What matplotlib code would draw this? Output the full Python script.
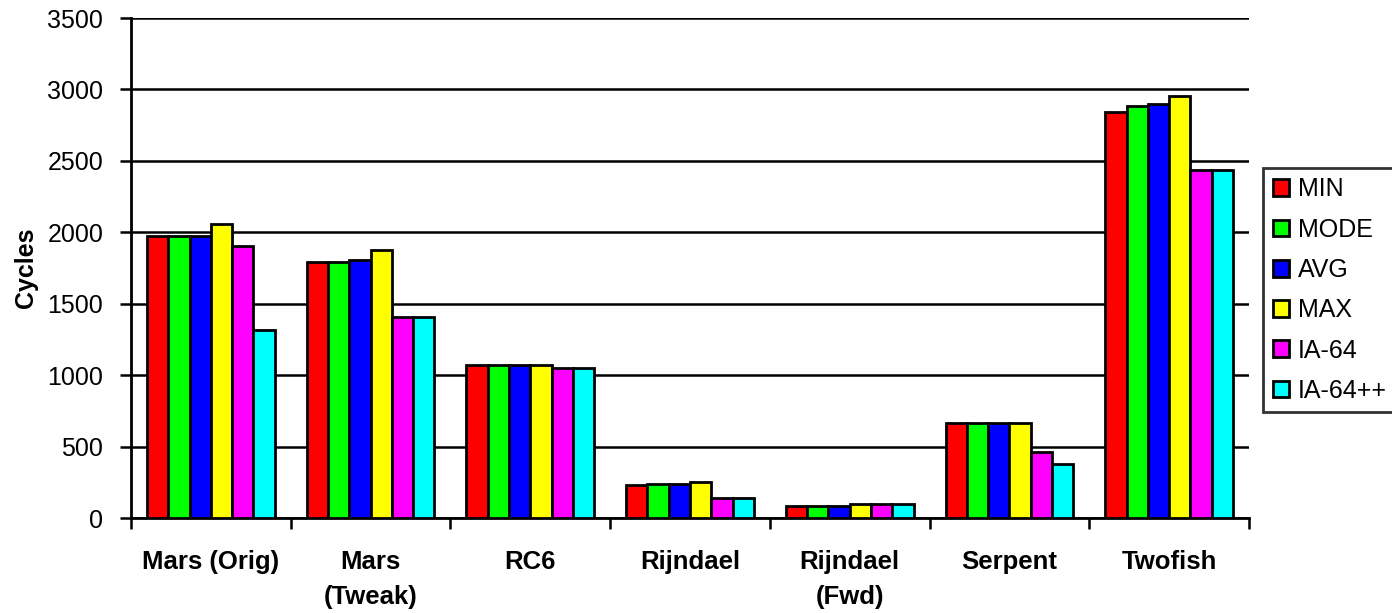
import matplotlib
matplotlib.use("Agg")
import matplotlib.pyplot as plt
import numpy as np

plt.rcParams['font.family'] = ['Liberation Sans', 'DejaVu Sans']

categories = ["Mars (Orig)", "Mars\n(Tweak)", "RC6", "Rijndael", "Rijndael\n(Fwd)", "Serpent", "Twofish"]
series_names = ["MIN", "MODE", "AVG", "MAX", "IA-64", "IA-64++"]
MIN = [1975, 1790, 1072, 233, 87, 667, 2840]
MODE = [1975, 1790, 1072, 238, 87, 667, 2884]
AVG = [1975, 1804, 1072, 238, 87, 667, 2898]
MAX = [2060, 1874, 1072, 252, 98, 667, 2954]
IA64 = [1902, 1409, 1048, 140, 98, 462, 2434]
IA64PP = [1314, 1409, 1048, 140, 98, 378, 2434]
values = [MIN, MODE, AVG, MAX, IA64, IA64PP]
colors = ["#FF0000", "#00FF00", "#0000FF", "#FFFF00", "#FF00FF", "#00FFFF"]
yticks = [0, 500, 1000, 1500, 2000, 2500, 3000, 3500]

fig = plt.figure(figsize=(13.92, 6.13), dpi=100)
ax = fig.add_axes([131/1392, 1-518/613, (1249-131)/1392, 500/613])

n = len(categories)
x = np.arange(n)
bw = 0.8 / 6
for i, (vals, c, name) in enumerate(zip(values, colors, series_names)):
    ax.bar(x - 0.4 + bw*(i+0.5), vals, width=bw, color=c, edgecolor='black',
           linewidth=2, label=name, zorder=3)

ax.set_xlim(-0.5, n-0.5)
ax.set_ylim(0, 3500)
ax.set_yticks(yticks)
ax.set_yticklabels([str(v) for v in yticks], fontsize=18)
ax.yaxis.grid(True, color='black', linewidth=1.8, zorder=0)
ax.set_axisbelow(True)

ax.set_xticks(x)
ax.set_xticklabels(categories, fontsize=18.5, fontweight='bold', linespacing=1.6)
ax.tick_params(axis='x', length=0, pad=23)
ax.set_xticks(np.arange(-0.5, n, 1.0), minor=True)
ax.tick_params(axis='x', which='minor', length=8, width=1.8, direction='out')
ax.tick_params(axis='y', length=8, width=1.8, direction='out', pad=12)

for s in ['top', 'right']:
    ax.spines[s].set_visible(False)
for s in ['left', 'bottom']:
    ax.spines[s].set_linewidth(2)

ax.set_ylabel("Cycles", fontsize=18, fontweight='bold')
ax.yaxis.set_label_coords(-0.083, 0.5)

leg = fig.legend(loc='upper left', bbox_to_anchor=(1263/1392, 1-168/613),
                 fontsize=18, frameon=True, fancybox=False, edgecolor='black',
                 handlelength=0.65, handleheight=0.65, labelspacing=0.65,
                 handletextpad=0.35, borderpad=0.38, borderaxespad=0)
leg.get_frame().set_linewidth(2)
for h in leg.legend_handles:
    h.set_linewidth(2)

fig.savefig("out.png", dpi=100)
